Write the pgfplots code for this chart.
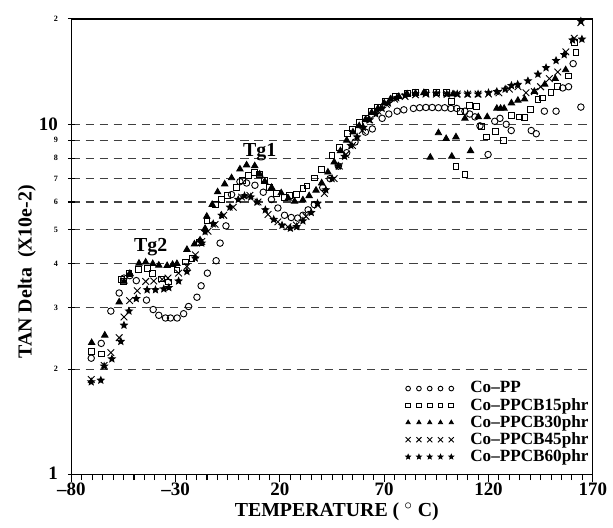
\documentclass[border=0pt]{standalone}
\usepackage{fontspec}
\setmainfont{Liberation Serif}
\usepackage{pgfplots}
\pgfplotsset{compat=1.18}

% small filled five-point star
\pgfdeclareplotmark{fstar}{%
  \pgfpathmoveto{\pgfpointpolar{90}{\pgfplotmarksize}}%
  \pgfpathlineto{\pgfpointpolar{126}{0.45\pgfplotmarksize}}%
  \pgfpathlineto{\pgfpointpolar{162}{\pgfplotmarksize}}%
  \pgfpathlineto{\pgfpointpolar{198}{0.45\pgfplotmarksize}}%
  \pgfpathlineto{\pgfpointpolar{234}{\pgfplotmarksize}}%
  \pgfpathlineto{\pgfpointpolar{270}{0.45\pgfplotmarksize}}%
  \pgfpathlineto{\pgfpointpolar{306}{\pgfplotmarksize}}%
  \pgfpathlineto{\pgfpointpolar{342}{0.45\pgfplotmarksize}}%
  \pgfpathlineto{\pgfpointpolar{18}{\pgfplotmarksize}}%
  \pgfpathlineto{\pgfpointpolar{54}{0.45\pgfplotmarksize}}%
  \pgfpathclose
  \pgfusepathqfillstroke
}
\newcommand{\st}[1]{{\fontsize{4.5}{5}\selectfont #1}}
% five marks in a row for the legend
\pgfplotsset{
  fivemarks/.style={legend image code/.code={\draw[##1, mark size=#1] plot coordinates
    {(-0.3cm,0cm) (-0.09cm,0cm) (0.12cm,0cm) (0.33cm,0cm) (0.54cm,0cm)};}},
}

\begin{document}
\begin{tikzpicture}
\begin{axis}[
  scale only axis,
  width=288.75pt, height=252.45pt,
  xmin=-80, xmax=170,
  ymode=log, ymin=1, ymax=20,
  clip=false,
  axis line style={line width=0.8pt},
  xtick={-80,-30,20,70,120,170},
  xticklabels={--80,--30,20,70,120,170},
  minor x tick num=9,
  xtick pos=bottom, xtick align=outside,
  xticklabel style={yshift=3pt},
  ytick={1,2,3,4,5,6,7,8,9,10,20},
  yticklabels={\raisebox{2pt}{1},\st{2},\st{3},\st{4},\st{5},\st{6},\st{7},\st{8},\st{9},10,\st{2}},
  yticklabel style={xshift=-2pt},
  ytick pos=left, ytick align=center,
  major tick length=4pt, minor tick length=3pt,
  every tick/.style={black, line width=0.6pt},
  tick label style={font=\bfseries\fontsize{10.5}{11}\selectfont},
  ymajorgrids,
  major grid style={black!75, line width=0.7pt, dash pattern=on 4.5pt off 3.3pt},
  xlabel={TEMPERATURE ( $^\circ$ C)},
  ylabel={TAN Delta\ \ (X10e-2)},
  label style={font=\bfseries\fontsize{11}{13}\selectfont},
  xlabel style={at={(rel axis cs:0.509,-0.082)}, anchor=center},
  ylabel style={at={(rel axis cs:-0.0857,0.445)}, anchor=center},
  every axis plot/.append style={only marks, black, line width=0.5pt},
  legend style={at={(rel axis cs:1.005,0.012)}, anchor=south east, draw=none, fill=none,
    font=\bfseries\fontsize{9.5}{10}\selectfont, row sep=0.2pt,
    nodes={inner sep=0.6pt},
    /tikz/every odd column/.append style={column sep=0.3cm}},
  legend cell align=left,
  fivemarks=1.3pt,
]
% Co-PP
\addplot[mark=o, mark size=1.8pt] coordinates {
(-70.5,2.15) (-65.7,2.37) (-61.1,2.93) (-57.1,3.30) (-54.8,3.64) (-52,3.70)
(-48.9,3.58) (-44,3.15) (-40.8,2.96) (-38.1,2.85) (-34.9,2.80) (-32.5,2.80)
(-29.3,2.80) (-26.2,2.88) (-23.8,3.02) (-19.8,3.21) (-17.8,3.46) (-14.8,3.76)
(-10.6,4.08) (-8.7,4.58) (-5.9,5.13) (-3.2,6.3) (0.8,6.86) (4,6.8) (8,6.7)
(12,6.4) (15.9,6.1) (19,5.77) (22.2,5.5) (25.4,5.42) (28.5,5.4) (31,5.5)
(33.5,5.7) (36.5,5.9) (40.5,6.6) (44,7.0) (48,7.6) (52,8.3) (56,8.9) (61,9.5)
(64.3,9.7) (69,10.4) (72.2,10.7) (76.2,10.9) (79.4,11.0) (84,11.1) (87,11.15)
(90,11.17) (93,11.17) (96,11.15) (99,11.15) (102,11.1) (104.8,11.1)
(108.7,10.9) (111,10.7) (113.5,10.5) (115.9,9.9) (119.8,8.2) (123,10.2)
(125.5,10.4) (128.5,10.0) (130.9,9.6) (140.5,9.6) (142.9,9.4) (146.8,10.9)
(152.4,10.9) (155.6,12.7) (158.4,12.8) (160.6,14.9) (164.3,11.2)
};
\addlegendentry{Co--PP}
% Co-PPCB15phr
\addplot[mark=square, mark size=1.6pt] coordinates {
(-70.5,2.25) (-65.7,2.21) (-55.9,3.6) (-54.9,3.56) (-52.4,3.76) (-48,3.85)
(-43.7,3.88) (-41.3,3.76) (-37,3.62) (-33.3,3.55) (-29.4,3.84) (-25.4,4.05)
(-22.2,4.15) (-18.5,4.6) (-15,5.3) (-11,5.9) (-8,6.1) (-5,6.25) (-1,6.6)
(2,6.9) (4.8,7.15) (7.9,7.3) (10.3,7.2) (12.5,6.9) (15,6.6) (18.2,6.35)
(22.2,6.17) (24.6,6.25) (27.8,6.3) (31,6.55) (32.9,6.67) (36.5,7.03) (40,7.44)
(44.9,8.15) (48.4,8.6) (52.4,9.4) (54.8,9.7) (58,10.1) (61.1,10.4) (64,10.9)
(66.7,11.2) (70.7,11.6) (75.4,12.05) (81,12.25) (85,12.3) (90,12.35) (95,12.3)
(100,12.3) (102.4,11.6) (104.4,7.6) (106.5,10.9) (108.7,7.18) (111,11.3)
(114.3,11.25) (116.7,9.85) (119,9.2) (123.5,9.55) (127.3,9.0) (130.9,10.6)
(134.9,10.5) (137.3,10.45) (140.1,11.0) (143.7,11.8) (146,11.9) (150,12.3)
(153.2,12.85) (158.4,13.75) (161.4,17.1) (161.9,16.0)
};
\addlegendentry{Co--PPCB15phr}
% Co-PPCB30phr
\addplot[mark=triangle*, mark size=2pt] coordinates {
(-70.3,2.38) (-64,2.5) (-57.1,3.11) (-54.8,3.56) (-52,3.75) (-47.6,4.01)
(-44.4,4.04) (-41,4.0) (-38.1,3.96) (-34.1,3.95) (-31.5,3.98) (-29.4,4.0)
(-24.6,4.39) (-21,4.55) (-18.3,4.67) (-15.9,5.04) (-15.1,5.46) (-12.5,5.9)
(-9.9,6.41) (-6.5,6.75) (-3.2,7.03) (0.8,7.45) (4,7.65) (7.9,7.61) (10.3,7.2)
(12.7,6.87) (16,6.6) (20.6,6.37) (24,6.15) (27,6.03) (31,6.08) (34,6.25)
(37.3,6.48) (40,6.8) (43,7.3) (46,7.8) (49,8.4) (52,9.0) (55,9.5) (58,9.9)
(61,10.3) (64,10.8) (67,11.1) (70,11.5) (73,11.8) (77,12.0) (81,12.2)
(85,12.25) (89,12.3) (92.1,8.05) (96,9.45) (99.7,9.1) (102.4,8.1) (103,12.2)
(104.4,9.2) (108.7,10.4) (111.4,8.4) (115.1,10.5) (119.4,10.5) (124,11.1)
(125.8,11.1) (127.5,11.1) (131,11.5) (134.1,11.7) (137.3,11.8) (142,12.4)
(147,13.0) (152,13.5) (157,14.3)
};
\addlegendentry{Co--PPCB30phr}
% Co-PPCB45phr
\addplot[mark=x, mark size=2.6pt, fivemarks=2pt] coordinates {
(-70.5,1.87) (-64.3,2.05) (-61.1,2.23) (-57.1,2.46) (-54.8,2.82) (-52.1,3.14)
(-48.4,3.35) (-44.4,3.56) (-40.5,3.57) (-36.5,3.61) (-33.7,3.64) (-28.6,3.76)
(-24.6,3.93) (-20.6,4.24) (-17.5,4.63) (-14.5,4.95) (-11.1,5.18) (-7,5.5)
(-2.4,5.8) (1.6,6.2) (5.6,6.27) (9.5,6.0) (14.3,5.53) (19,5.27) (23.8,5.1)
(27.8,5.16) (32.5,5.46) (38.1,5.88) (41.3,6.35) (46,7.0) (48.5,7.6) (51.6,8.2)
(54.8,8.7) (59.5,9.6) (63,10.3) (67,10.9) (71,11.4) (75,11.8) (80,12.0)
(85,12.15) (90,12.2) (95,12.2) (100,12.2) (105,12.2) (110,12.2) (115,12.2)
(120,12.2) (125,12.3) (130,12.6) (134.1,12.8) (138,12.3) (142,12.4) (145,12.8)
(149.2,13.5) (153.2,14.1) (157.1,16.1) (161.1,17.6) (164.3,19.5)
};
\addlegendentry{Co--PPCB45phr}
% Co-PPCB60phr
\addplot[mark=fstar, mark size=1.9pt] coordinates {
(-70.5,1.84) (-65.9,1.86) (-64.3,2.04) (-60.6,2.14) (-56.3,2.4) (-54.8,2.67)
(-52.4,2.93) (-48.9,3.18) (-43.7,3.37) (-39.7,3.37) (-35.7,3.39) (-33.3,3.42)
(-28.6,3.57) (-24.6,3.8) (-20.6,4.15) (-17.5,4.58) (-15.9,4.94) (-12,5.2)
(-8,5.5) (-4,5.8) (0,6.1) (3,6.25) (6,6.2) (9,6.0) (13,5.7) (17,5.35)
(21,5.15) (25,5.05) (28,5.1) (31,5.3) (35,5.6) (38,5.95) (42,6.5) (45,7.0)
(48,7.6) (51,8.1) (54,8.7) (57,9.2) (60,9.8) (63,10.3) (66,10.7) (69,11.1)
(72,11.5) (76,11.9) (80,12.1) (85,12.2) (90,12.25) (95,12.25) (100,12.2)
(105,12.2) (110,12.2) (115,12.2) (120,12.3) (124,12.4) (128,12.6) (131,12.9)
(134,13.0) (138.9,13.3) (143.7,13.9) (147.6,14.5) (152.4,15.2) (156.3,15.8)
(160.3,17.4) (164.8,17.5) (164.3,19.7)
};
\addlegendentry{Co--PPCB60phr}
\node[font=\bfseries\fontsize{11}{13}\selectfont] at (axis cs:-42,4.45) {Tg2};
\node[font=\bfseries\fontsize{11}{13}\selectfont] at (axis cs:10.3,8.33) {Tg1};
\path (rel axis cs:-0.137,-0.0915) rectangle (rel axis cs:1.0305,1.0414);
\end{axis}
\end{tikzpicture}
\end{document}
